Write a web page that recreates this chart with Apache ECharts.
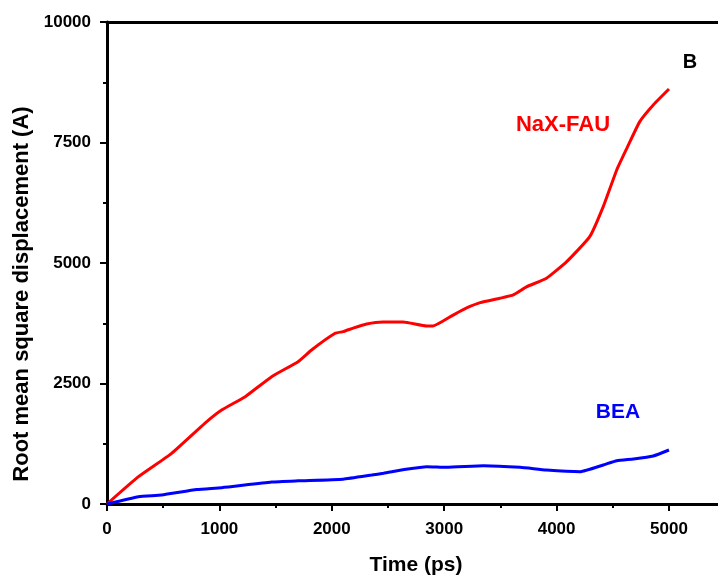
<!DOCTYPE html>
<html>
<head>
<meta charset="utf-8">
<script src="https://cdn.jsdelivr.net/npm/echarts@6/dist/echarts.min.js"></script>
<style>
  html, body { margin: 0; padding: 0; background: #fff; }
  #chart { width: 718px; height: 581px; }
</style>
</head>
<body>
<div id="chart"></div>
<script>
// Root mean square displacement over simulation time
const fauTime = [0, 280, 575, 870, 1020, 1230, 1465, 1700, 1820, 2030, 2100, 2190, 2310, 2455, 2635, 2845, 2900, 3080, 3200, 3320, 3495, 3615, 3735, 3910, 4090, 4295, 4415, 4535, 4625, 4740, 4860, 5000];
const fauRmsd = [0, 567, 1051, 1674, 1950, 2227, 2642, 2953, 3196, 3541, 3576, 3650, 3735, 3776, 3776, 3694, 3694, 3920, 4067, 4177, 4268, 4337, 4509, 4683, 5028, 5547, 6169, 6930, 7380, 7933, 8279, 8610];

const beaTime = [0, 280, 485, 800, 1020, 1465, 1700, 2100, 2355, 2460, 2660, 2845, 3020, 3350, 3675, 3910, 4210, 4415, 4535, 4685, 4860, 5000];
const beaRmsd = [0, 152, 187, 300, 338, 455, 480, 515, 600, 637, 720, 774, 761, 795, 761, 705, 671, 809, 899, 934, 996, 1120];

const xMajorTicks = [0, 1000, 2000, 3000, 4000, 5000];
const xMinorTicks = [500, 1500, 2500, 3500, 4500];
const xTopTicks = [500, 1000, 1500, 2000, 2500, 3000, 3500, 4000, 4500, 5000];

const fauName = 'NaX-FAU';
const beaName = 'BEA';
const panelLetter = 'B';
const xTitle = 'Time (ps)';
const yTitle = 'Root mean square displacement (A)';

const pairs = (xs, ys) => xs.map((x, i) => [x, ys[i]]);
const plain = v => String(v);

const FONT = '"Liberation Sans", Arial, sans-serif';
const X_MAX = 5436;

const chart = echarts.init(document.getElementById('chart'), null, { renderer: 'canvas' });

const baseX = {
  type: 'value', min: 0, max: X_MAX, interval: 1000, gridIndex: 0,
  splitLine: { show: false }
};

chart.setOption({
  animation: false,
  backgroundColor: '#fff',
  grid: { left: 107, top: 22, right: 0, bottom: 77, containLabel: false },
  xAxis: [
    Object.assign({}, baseX, {
      position: 'bottom',
      axisLine: { show: true, onZero: false, lineStyle: { color: '#000', width: 3 } },
      axisTick: { show: true, inside: false, length: 7, lineStyle: { color: '#000', width: 2 }, customValues: xMajorTicks },
      axisLabel: {
        show: true, customValues: xMajorTicks, margin: 17, formatter: plain,
        color: '#000', fontFamily: FONT, fontWeight: 'bold', fontSize: 17
      }
    }),
    Object.assign({}, baseX, {
      position: 'bottom',
      axisLine: { show: false, onZero: false },
      axisTick: { show: true, inside: false, length: 4, lineStyle: { color: '#000', width: 2 }, customValues: xMinorTicks },
      axisLabel: { show: false }
    }),
    Object.assign({}, baseX, {
      position: 'top',
      axisLine: { show: true, onZero: false, lineStyle: { color: '#000', width: 3 } },
      axisTick: { show: true, inside: true, length: 2, lineStyle: { color: '#000', width: 1 }, customValues: xTopTicks },
      axisLabel: { show: false }
    })
  ],
  yAxis: {
    type: 'value', min: 0, max: 10000, interval: 2500,
    splitLine: { show: false },
    axisLine: { show: true, lineStyle: { color: '#000', width: 3 } },
    axisTick: { show: true, inside: false, length: 7, lineStyle: { color: '#000', width: 2 } },
    minorTick: { show: true, splitNumber: 2, length: 4, lineStyle: { color: '#000', width: 2 } },
    axisLabel: {
      margin: 16, formatter: plain,
      color: '#000', fontFamily: FONT, fontWeight: 'bold', fontSize: 17
    }
  },
  series: [
    {
      name: fauName, type: 'line', xAxisIndex: 0, data: pairs(fauTime, fauRmsd),
      showSymbol: false, smooth: 0.15,
      lineStyle: { color: '#ff0000', width: 3 }
    },
    {
      name: beaName, type: 'line', xAxisIndex: 0, data: pairs(beaTime, beaRmsd),
      showSymbol: false, smooth: 0.15,
      lineStyle: { color: '#0000ff', width: 3 }
    }
  ],
  graphic: [
    {
      type: 'text', x: 416, y: 565,
      style: { text: xTitle, fill: '#000', font: 'bold 21px ' + FONT, textAlign: 'center', textVerticalAlign: 'middle' }
    },
    {
      type: 'text', x: 22, y: 294, rotation: Math.PI / 2,
      style: { text: yTitle, fill: '#000', font: 'bold 22px ' + FONT, textAlign: 'center', textVerticalAlign: 'middle' }
    },
    {
      type: 'text', x: 563, y: 125,
      style: { text: fauName, fill: '#ff0000', font: 'bold 22px ' + FONT, textAlign: 'center', textVerticalAlign: 'middle' }
    },
    {
      type: 'text', x: 618, y: 412,
      style: { text: beaName, fill: '#0000ff', font: 'bold 21px ' + FONT, textAlign: 'center', textVerticalAlign: 'middle' }
    },
    {
      type: 'text', x: 690, y: 62,
      style: { text: panelLetter, fill: '#000', font: 'bold 20px ' + FONT, textAlign: 'center', textVerticalAlign: 'middle' }
    }
  ]
});
</script>
</body>
</html>
